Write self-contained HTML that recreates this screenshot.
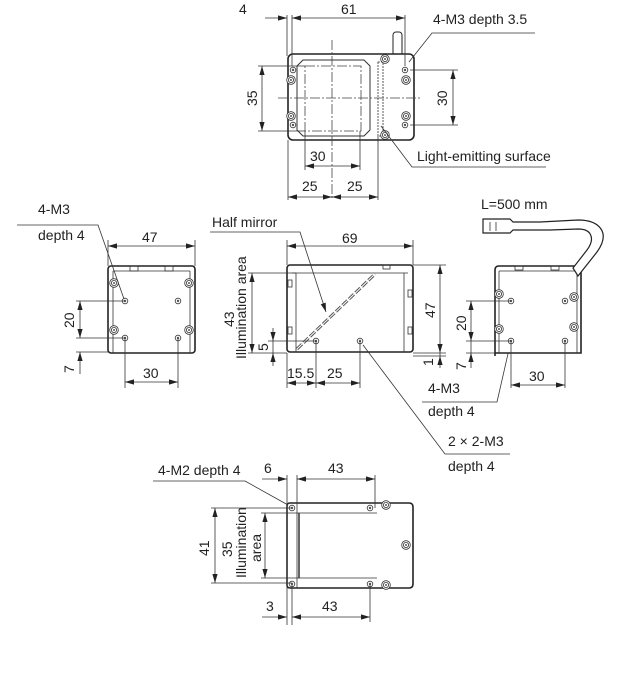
<!DOCTYPE html>
<html><head><meta charset="utf-8"><style>
html,body{margin:0;padding:0;background:#fff;}
svg{display:block;}
text{font-family:"Liberation Sans",sans-serif;font-size:14px;fill:#222;}
.l{stroke:#333;stroke-width:0.8;fill:none;}
.b{stroke:#222;stroke-width:1.6;fill:#fff;}
.t{stroke:#333;stroke-width:1;fill:none;}
.dd{stroke:#444;stroke-width:0.8;fill:none;stroke-dasharray:10 2 2 2;}
.h{stroke:#333;stroke-width:0.8;fill:#fff;}
</style></head><body>
<svg width="640" height="694" viewBox="0 0 640 694" xmlns="http://www.w3.org/2000/svg">
<defs>
<path id="ar" d="M0,0 L-9,-2.6 L-9,2.6 Z" fill="#222"/>
<g id="hole"><circle r="2.8" class="h"/><circle r="1.2" fill="#555"/></g>
<g id="scr"><circle r="4.3" class="h"/><circle r="2.6" class="h"/><circle r="1" fill="#555"/></g>
</defs>

<!-- ============ TOP VIEW ============ -->
<rect x="393" y="32" width="9" height="30" rx="3" class="b" style="stroke-width:1"/>
<rect x="288" y="54" width="126" height="86" rx="5" class="b"/>
<path d="M303,60 H364 L370,66 V130 L364,136 H303 L297,130 V66 Z" class="t"/>
<rect x="305" y="66" width="56" height="65" class="dd"/>
<rect x="378" y="62" width="5" height="74" class="l" style="stroke-dasharray:2 1"/>
<use href="#hole" x="293" y="70"/><use href="#hole" x="293" y="125"/>
<use href="#hole" x="405" y="70"/><use href="#hole" x="405" y="125"/>
<use href="#scr" x="291" y="80"/><use href="#scr" x="291" y="116"/>
<use href="#scr" x="406" y="80"/><use href="#scr" x="406" y="116"/>
<use href="#scr" x="385" y="59"/><use href="#scr" x="385" y="135"/>
<line x1="278" y1="98" x2="422" y2="98" class="dd"/>
<line x1="332" y1="40" x2="332" y2="200" class="dd"/>
<line x1="287" y1="15" x2="287" y2="56" class="l"/>
<line x1="292" y1="15" x2="292" y2="66" class="l"/>
<line x1="405" y1="15" x2="405" y2="66" class="l"/>
<line x1="265" y1="18" x2="287" y2="18" class="l"/>
<line x1="292" y1="18" x2="405" y2="18" class="l"/>
<text x="239" y="14">4</text><text x="341" y="14">61</text>
<line x1="258" y1="66" x2="305" y2="66" class="l"/><line x1="258" y1="131" x2="305" y2="131" class="l"/>
<line x1="262" y1="66" x2="262" y2="131" class="l"/>
<text transform="translate(257,106) rotate(-90)">35</text>
<line x1="410" y1="70" x2="458" y2="70" class="l"/><line x1="410" y1="125" x2="458" y2="125" class="l"/>
<line x1="453" y1="70" x2="453" y2="125" class="l"/>
<text transform="translate(447,106) rotate(-90)">30</text>
<line x1="305" y1="131" x2="305" y2="170" class="l"/><line x1="360" y1="131" x2="360" y2="170" class="l"/>
<line x1="305" y1="166" x2="360" y2="166" class="l"/>
<text x="310" y="161">30</text>
<line x1="288" y1="140" x2="288" y2="200" class="l"/><line x1="378" y1="136" x2="378" y2="200" class="l"/>
<line x1="288" y1="197" x2="378" y2="197" class="l"/>
<text x="302" y="191">25</text><text x="347" y="191">25</text>
<text x="433" y="24">4-M3 depth 3.5</text>
<polyline points="535,33 432,33 409,62" class="l"/>
<text x="417" y="161">Light-emitting surface</text>
<polyline points="546,167 412,167 381,126" class="l"/>

<!-- ============ LEFT SIDE VIEW ============ -->
<rect x="108" y="266" width="87" height="87" rx="3" class="b"/>
<line x1="113" y1="271" x2="113" y2="353" class="l"/><line x1="190" y1="271" x2="190" y2="353" class="l"/>
<line x1="113" y1="271" x2="190" y2="271" class="l"/>
<rect x="130" y="266" width="8" height="5" class="l"/><rect x="165" y="266" width="8" height="5" class="l"/>
<use href="#scr" x="114" y="283"/><use href="#scr" x="189" y="283"/>
<use href="#scr" x="114" y="330"/><use href="#scr" x="189" y="330"/>
<use href="#hole" x="125" y="301"/><use href="#hole" x="178" y="301"/>
<use href="#hole" x="125" y="338"/><use href="#hole" x="178" y="338"/>
<line x1="108" y1="240" x2="108" y2="266" class="l"/><line x1="195" y1="240" x2="195" y2="266" class="l"/>
<line x1="108" y1="246" x2="195" y2="246" class="l"/>
<text x="142" y="242">47</text>
<line x1="76" y1="301" x2="125" y2="301" class="l"/><line x1="76" y1="338" x2="125" y2="338" class="l"/><line x1="76" y1="352" x2="108" y2="352" class="l"/>
<line x1="80" y1="301" x2="80" y2="338" class="l"/>
<line x1="80" y1="374" x2="80" y2="352" class="l"/>
<text transform="translate(74,328) rotate(-90)">20</text>
<text transform="translate(74,373) rotate(-90)">7</text>
<line x1="125" y1="338" x2="125" y2="388" class="l"/><line x1="178" y1="338" x2="178" y2="388" class="l"/>
<line x1="125" y1="382" x2="178" y2="382" class="l"/>
<text x="143" y="378">30</text>
<text x="38" y="214">4-M3</text><text x="38" y="240">depth 4</text>
<polyline points="17,225 98,225 124,299" class="l"/>

<!-- ============ FRONT VIEW ============ -->
<rect x="287" y="265" width="126" height="87" rx="3" class="b"/>
<line x1="296" y1="273" x2="296" y2="352" class="l"/><line x1="404" y1="273" x2="404" y2="352" class="l"/>
<line x1="292" y1="273" x2="408" y2="273" class="l"/>
<rect x="288" y="280" width="4" height="7" class="l"/><rect x="288" y="327" width="4" height="7" class="l"/>
<rect x="408" y="290" width="4" height="7" class="l"/><rect x="408" y="327" width="4" height="7" class="l"/>
<rect x="383" y="265" width="7" height="4" class="l"/>
<line x1="297" y1="349" x2="375" y2="274" stroke="#555" stroke-width="3" stroke-dasharray="7 2"/>
<line x1="297" y1="349" x2="375" y2="274" stroke="#fff" stroke-width="1" stroke-dasharray="7 2"/>
<use href="#hole" x="316" y="341"/><use href="#hole" x="360" y="341"/>
<line x1="287" y1="240" x2="287" y2="265" class="l"/><line x1="413" y1="240" x2="413" y2="265" class="l"/>
<line x1="287" y1="246" x2="413" y2="246" class="l"/>
<text x="342" y="243">69</text>
<line x1="248" y1="273" x2="296" y2="273" class="l"/><line x1="248" y1="353" x2="287" y2="353" class="l"/>
<line x1="252" y1="273" x2="252" y2="353" class="l"/>
<text transform="translate(234,327) rotate(-90)">43</text>
<text transform="translate(246,359) rotate(-90)">Illumination area</text>
<line x1="268" y1="341" x2="316" y2="341" class="l"/>
<line x1="273" y1="328" x2="273" y2="366" class="l"/>
<text transform="translate(268,351) rotate(-90)">5</text>
<line x1="413" y1="265" x2="446" y2="265" class="l"/><line x1="413" y1="353" x2="446" y2="353" class="l"/><line x1="413" y1="356" x2="446" y2="356" class="l"/>
<line x1="440" y1="265" x2="440" y2="368" class="l"/>
<text transform="translate(435,318) rotate(-90)">47</text>
<text transform="translate(433,366) rotate(-90)">1</text>
<line x1="287" y1="353" x2="287" y2="388" class="l"/><line x1="316" y1="341" x2="316" y2="388" class="l"/><line x1="360" y1="341" x2="360" y2="388" class="l"/>
<line x1="287" y1="383" x2="360" y2="383" class="l"/>
<text x="287" y="378">15.5</text><text x="327" y="378">25</text>
<text x="212" y="227">Half mirror</text>
<polyline points="210,232 300,232 326,312" class="l"/>
<text x="428" y="393">4-M3</text><text x="428" y="416">depth 4</text>
<polyline points="422,402 497,402 510,345" class="l"/>
<text x="448" y="446">2 × 2-M3</text><text x="448" y="471">depth 4</text>
<polyline points="510,454 445,454 363,345" class="l"/>

<!-- ============ RIGHT SIDE VIEW ============ -->
<path d="M495,356 V270 Q495,266 499,266 H577 L581,272 V353 H495" class="b"/>
<line x1="499" y1="271" x2="577" y2="271" class="l"/><line x1="499" y1="271" x2="499" y2="353" class="l"/><line x1="577" y1="272" x2="577" y2="353" class="l"/>
<rect x="515" y="266" width="8" height="4" class="l"/><rect x="551" y="266" width="8" height="4" class="l"/>
<path d="M578,276 L597,252 Q607,238 601,229 Q595,220 578,220 L540,222 L513,222 L510,219 H483 V233 H510 L513,230 H550 L578,229 Q589,229 591,236 Q593,242 587,250 L573,268 Z" class="b" style="stroke-width:1.2"/>
<line x1="490" y1="222" x2="490" y2="231" class="l"/><line x1="496" y1="222" x2="496" y2="231" class="l"/>
<use href="#scr" x="499" y="294"/><use href="#scr" x="574" y="297"/>
<use href="#scr" x="499" y="329"/><use href="#scr" x="574" y="327"/>
<use href="#hole" x="511" y="301"/><use href="#hole" x="565" y="301"/>
<use href="#hole" x="511" y="341"/><use href="#hole" x="565" y="341"/>
<text x="481" y="209">L=500 mm</text>
<line x1="466" y1="301" x2="511" y2="301" class="l"/><line x1="466" y1="341" x2="511" y2="341" class="l"/><line x1="466" y1="353" x2="495" y2="353" class="l"/>
<line x1="471" y1="301" x2="471" y2="368" class="l"/>
<text transform="translate(466,331) rotate(-90)">20</text>
<text transform="translate(466,370) rotate(-90)">7</text>
<line x1="511" y1="341" x2="511" y2="388" class="l"/><line x1="565" y1="341" x2="565" y2="388" class="l"/>
<line x1="511" y1="385" x2="565" y2="385" class="l"/>
<text x="529" y="381">30</text>

<!-- ============ BOTTOM VIEW ============ -->
<path d="M290,503 H409 Q413,503 413,507 V584 Q413,588 409,588 H290 Q287,588 287,585 V506 Q287,503 290,503 Z" class="b"/>
<line x1="297" y1="503" x2="297" y2="588" class="l"/>
<line x1="297" y1="513" x2="377" y2="513" class="l"/><line x1="297" y1="578" x2="377" y2="578" class="l"/>
<line x1="299" y1="513" x2="299" y2="578" class="t" style="stroke-width:1.5"/>
<use href="#hole" x="292" y="508"/><use href="#hole" x="292" y="584"/>
<use href="#hole" x="370" y="508"/><use href="#hole" x="370" y="584"/>
<use href="#scr" x="386" y="505"/><use href="#scr" x="406" y="545"/><use href="#scr" x="386" y="585"/>
<line x1="211" y1="508" x2="292" y2="508" class="l"/><line x1="211" y1="583" x2="292" y2="583" class="l"/>
<line x1="215" y1="508" x2="215" y2="583" class="l"/>
<text transform="translate(209,556) rotate(-90)">41</text>
<line x1="261" y1="513" x2="297" y2="513" class="l"/><line x1="261" y1="578" x2="297" y2="578" class="l"/>
<line x1="265" y1="513" x2="265" y2="578" class="l"/>
<text transform="translate(232,557) rotate(-90)">35</text>
<text transform="translate(246,578) rotate(-90)">Illumination</text>
<text transform="translate(261,562) rotate(-90)">area</text>
<line x1="287" y1="475" x2="287" y2="625" class="l"/><line x1="292" y1="585" x2="292" y2="625" class="l"/>
<line x1="297" y1="475" x2="297" y2="503" class="l"/><line x1="375" y1="475" x2="375" y2="508" class="l"/><line x1="370" y1="584" x2="370" y2="622" class="l"/>
<line x1="262" y1="479" x2="287" y2="479" class="l"/>
<line x1="297" y1="479" x2="375" y2="479" class="l"/>
<text x="264" y="473">6</text><text x="328" y="473">43</text>
<line x1="262" y1="617" x2="287" y2="617" class="l"/>
<line x1="292" y1="617" x2="370" y2="617" class="l"/>
<text x="266" y="611">3</text><text x="322" y="611">43</text>
<text x="158" y="475">4-M2 depth 4</text>
<polyline points="153,481 245,481 288,505" class="l"/>

<!-- ============ ARROWHEADS ============ -->
<use href="#ar" transform="translate(287,18)"/>
<use href="#ar" transform="translate(292,18) rotate(180)"/>
<use href="#ar" transform="translate(405,18)"/>
<use href="#ar" transform="translate(262,66) rotate(-90)"/>
<use href="#ar" transform="translate(262,131) rotate(90)"/>
<use href="#ar" transform="translate(453,70) rotate(-90)"/>
<use href="#ar" transform="translate(453,125) rotate(90)"/>
<use href="#ar" transform="translate(305,166) rotate(180)"/>
<use href="#ar" transform="translate(360,166)"/>
<use href="#ar" transform="translate(288,197) rotate(180)"/>
<use href="#ar" transform="translate(332,197)"/>
<use href="#ar" transform="translate(332,197) rotate(180)"/>
<use href="#ar" transform="translate(378,197)"/>
<use href="#ar" transform="translate(108,246) rotate(180)"/>
<use href="#ar" transform="translate(195,246)"/>
<use href="#ar" transform="translate(80,301) rotate(-90)"/>
<use href="#ar" transform="translate(80,338) rotate(90)"/>
<use href="#ar" transform="translate(80,352) rotate(-90)"/>
<use href="#ar" transform="translate(125,382) rotate(180)"/>
<use href="#ar" transform="translate(178,382)"/>
<use href="#ar" transform="translate(287,246) rotate(180)"/>
<use href="#ar" transform="translate(413,246)"/>
<use href="#ar" transform="translate(252,273) rotate(-90)"/>
<use href="#ar" transform="translate(252,353) rotate(90)"/>
<use href="#ar" transform="translate(273,341) rotate(90)"/>
<use href="#ar" transform="translate(273,353) rotate(-90)"/>
<use href="#ar" transform="translate(440,265) rotate(-90)"/>
<use href="#ar" transform="translate(440,353) rotate(90)"/>
<use href="#ar" transform="translate(440,356) rotate(-90)"/>
<use href="#ar" transform="translate(287,383) rotate(180)"/>
<use href="#ar" transform="translate(316,383)"/>
<use href="#ar" transform="translate(316,383) rotate(180)"/>
<use href="#ar" transform="translate(360,383)"/>
<use href="#ar" transform="translate(471,301) rotate(-90)"/>
<use href="#ar" transform="translate(471,341) rotate(90)"/>
<use href="#ar" transform="translate(471,353) rotate(-90)"/>
<use href="#ar" transform="translate(511,385) rotate(180)"/>
<use href="#ar" transform="translate(565,385)"/>
<use href="#ar" transform="translate(215,508) rotate(-90)"/>
<use href="#ar" transform="translate(215,583) rotate(90)"/>
<use href="#ar" transform="translate(265,513) rotate(-90)"/>
<use href="#ar" transform="translate(265,578) rotate(90)"/>
<use href="#ar" transform="translate(287,479)"/>
<use href="#ar" transform="translate(297,479) rotate(180)"/>
<use href="#ar" transform="translate(375,479)"/>
<use href="#ar" transform="translate(287,617)"/>
<use href="#ar" transform="translate(292,617) rotate(180)"/>
<use href="#ar" transform="translate(370,617)"/>
<use href="#ar" transform="translate(326,312) rotate(72)"/>
</svg>
</body></html>
